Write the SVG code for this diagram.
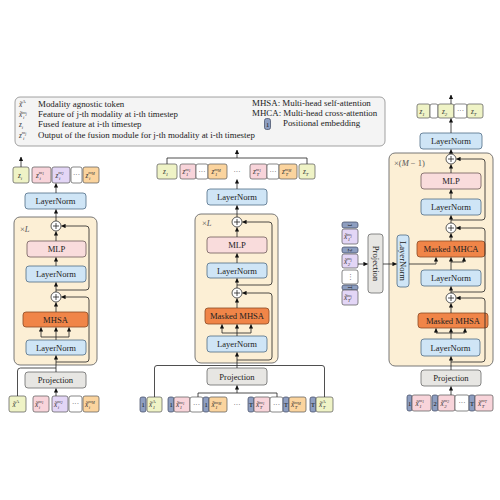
<svg xmlns="http://www.w3.org/2000/svg" width="500" height="500" viewBox="0 0 500 500">
  <defs>
    <marker id="ah" viewBox="0 0 6 6" refX="5.5" refY="3" markerWidth="4.4" markerHeight="4.4" markerUnits="userSpaceOnUse" orient="auto">
      <path d="M0,0 L6,3 L0,6 z" fill="#111"/>
    </marker>
    <style>
      .lbl{font-family:"Liberation Serif","Times New Roman",serif;font-size:8.6px;fill:#222;text-anchor:middle}
      .lg{font-family:"Liberation Serif","Times New Roman",serif;font-size:8.9px;fill:#222}
      .m{font-family:"Liberation Serif","Times New Roman",serif;font-size:7.2px;font-style:italic;fill:#333}
      .sp{font-size:4.8px}
      .ss{font-size:3.6px}
      .ln{fill:#cfe5f6;stroke:#4f6c86;stroke-width:0.8}
      .mlp{fill:#f9dcdc;stroke:#6e5a5a;stroke-width:0.8}
      .att{fill:#f08548;stroke:#8a4a24;stroke-width:0.8}
      .proj{fill:#e7e6e3;stroke:#6a6a6a;stroke-width:0.8}
      .box{fill:#fcefd5;stroke:#6a6a6a;stroke-width:0.9}
      .ty{fill:#eff3c6;stroke:#555;stroke-width:0.7}
      .tp{fill:#f8d4da;stroke:#555;stroke-width:0.7}
      .tv{fill:#e3d6f6;stroke:#555;stroke-width:0.7}
      .to{fill:#fbd49e;stroke:#555;stroke-width:0.7}
      .tw{fill:#ffffff;stroke:#555;stroke-width:0.7}
      .pe{fill:#8e9ec0;stroke:#3c4660;stroke-width:0.7}
      .pet{font-family:"Liberation Serif","Times New Roman",serif;font-size:6.5px;fill:#111;text-anchor:middle}
      .pl{fill:#fff;stroke:#333;stroke-width:0.8}
      .c{fill:none;stroke:#222;stroke-width:0.8}
      .a{fill:none;stroke:#222;stroke-width:0.8;marker-end:url(#ah)}
      .dots{font-family:"Liberation Serif","Times New Roman",serif;font-size:7px;fill:#333;text-anchor:middle}
      .rep{font-family:"Liberation Serif","Times New Roman",serif;font-size:8.5px;fill:#555}
    </style>
  </defs>

  <!-- legend -->
  <g id="legend">
    <rect x="15" y="97" width="370" height="49" rx="5" fill="#f4f4f4" stroke="#8a8a8a" stroke-width="0.8"/>
    <text class="m" x="19" y="106.5">x̃<tspan class="sp" y="102.5" font-style="normal">A</tspan></text>
    <text class="lg" x="38" y="106.5">Modality agnostic token</text>
    <text class="m" x="19" y="117">x̃<tspan class="sp" y="113.5">m</tspan><tspan class="ss" y="114.5">j</tspan><tspan class="sp" x="23" y="119">i</tspan></text>
    <text class="lg" x="38" y="117">Feature of j-th modality at i-th timestep</text>
    <text class="m" x="19" y="127">z<tspan class="sp" y="128.5">i</tspan></text>
    <text class="lg" x="38" y="127">Fused feature at i-th timestep</text>
    <text class="m" x="19" y="137.5">z<tspan class="sp" y="134">m</tspan><tspan class="ss" y="135">j</tspan><tspan class="sp" x="23" y="139.5">i</tspan></text>
    <text class="lg" x="38" y="137.5">Output of the fusion module for j-th modality at i-th timestep</text>
    <text class="lg" x="252" y="105.5">MHSA: Multi-head self-attention</text>
    <text class="lg" x="252" y="115.5">MHCA: Multi-head cross-attention</text>
    <rect class="pe" x="264.5" y="118.5" width="6" height="11" rx="2"/>
    <text class="pet" x="267.5" y="126.5">1</text>
    <text class="lg" x="283" y="125.8">Positional embedding</text>
  </g>

  <!-- ===== left block: single-timestep fusion ===== -->
  <g id="fusion-a">
    <rect class="box" x="14" y="217" width="83" height="148" rx="6"/>
    <text class="rep" x="20" y="232">×<tspan font-style="italic">L</tspan></text>
  </g>
  <g id="a-ln-out"><rect class="ln" x="25" y="193" width="61" height="16" rx="3"/><text class="lbl" x="55.5" y="204">LayerNorm</text></g>
  <g id="a-mlp"><rect class="mlp" x="27" y="241" width="59" height="16" rx="3"/><text class="lbl" x="56.5" y="252">MLP</text></g>
  <g id="a-ln2"><rect class="ln" x="26" y="266" width="60" height="16" rx="3"/><text class="lbl" x="56" y="277">LayerNorm</text></g>
  <g id="a-mhsa"><rect class="att" x="23" y="312" width="65" height="15" rx="3"/><text class="lbl" x="55.5" y="322.5">MHSA</text></g>
  <g id="a-ln1"><rect class="ln" x="26" y="340" width="60" height="15" rx="3"/><text class="lbl" x="56" y="350.5">LayerNorm</text></g>
  <g id="a-proj"><rect class="proj" x="25" y="372" width="61" height="16" rx="3"/><text class="lbl" x="55.5" y="383">Projection</text></g>
  <g id="a-add1"><circle class="pl" cx="56" cy="226" r="5"/><path class="c" d="M53,226 H59 M56,223 V229"/></g>
  <g id="a-add2"><circle class="pl" cx="56" cy="297" r="5"/><path class="c" d="M53,297 H59 M56,294 V300"/></g>
  <g id="a-out-tokens">
    <rect class="ty" x="13" y="167" width="16" height="16" rx="2"/>
    <text class="m" x="18" y="177.5">z<tspan class="sp" y="179.5">i</tspan></text>
    <rect class="tp" x="32" y="167" width="19" height="16" rx="2"/>
    <text class="m" x="36" y="177.5">z<tspan class="sp" y="174">m</tspan><tspan class="ss" y="175">1</tspan><tspan class="sp" x="39.6" y="179.5">i</tspan></text>
    <rect class="tv" x="52" y="167" width="18" height="16" rx="2"/>
    <text class="m" x="55.5" y="177.5">z<tspan class="sp" y="174">m</tspan><tspan class="ss" y="175">2</tspan><tspan class="sp" x="59.1" y="179.5">i</tspan></text>
    <rect class="tw" x="71" y="167" width="11" height="16" rx="2"/>
    <text class="dots" x="76.5" y="177">···</text>
    <rect class="to" x="83" y="167" width="16" height="16" rx="2"/>
    <text class="m" x="85.5" y="177.5">z<tspan class="sp" y="174">m</tspan><tspan class="ss" y="175">M</tspan><tspan class="sp" x="89.1" y="179.5">i</tspan></text>
  </g>
  <g id="a-in-tokens">
    <rect class="ty" x="9" y="396" width="17" height="16" rx="2"/>
    <text class="m" x="12.5" y="406.5">x̃<tspan class="sp" y="402.5" font-style="normal">A</tspan></text>
    <rect class="tp" x="33" y="396" width="16" height="16" rx="2"/>
    <text class="m" x="35" y="406.5">x̃<tspan class="sp" y="403">m</tspan><tspan class="ss" y="404">1</tspan><tspan class="sp" x="38.8" y="408.5">i</tspan></text>
    <rect class="tv" x="52" y="396" width="16" height="16" rx="2"/>
    <text class="m" x="54" y="406.5">x̃<tspan class="sp" y="403">m</tspan><tspan class="ss" y="404">2</tspan><tspan class="sp" x="57.8" y="408.5">i</tspan></text>
    <rect class="tw" x="69" y="396" width="13" height="16" rx="2"/>
    <text class="dots" x="75.5" y="406">···</text>
    <rect class="to" x="83" y="396" width="16" height="16" rx="2"/>
    <text class="m" x="85" y="406.5">x̃<tspan class="sp" y="403">m</tspan><tspan class="ss" y="404">M</tspan><tspan class="sp" x="88.8" y="408.5">i</tspan></text>
  </g>

  <!-- ===== middle block: multi-timestep fusion ===== -->
  <g id="fusion-b">
    <rect class="box" x="195" y="214" width="83" height="149" rx="6"/>
    <text class="rep" x="202" y="226">×<tspan font-style="italic">L</tspan></text>
  </g>
  <g id="b-ln-out"><rect class="ln" x="207" y="189" width="60" height="16" rx="3"/><text class="lbl" x="237" y="200">LayerNorm</text></g>
  <g id="b-mlp"><rect class="mlp" x="207" y="237" width="60" height="16" rx="3"/><text class="lbl" x="237" y="248">MLP</text></g>
  <g id="b-ln2"><rect class="ln" x="207" y="263" width="60" height="15" rx="3"/><text class="lbl" x="237" y="273.5">LayerNorm</text></g>
  <g id="b-mhsa"><rect class="att" x="205" y="308" width="64" height="16" rx="3"/><text class="lbl" x="237" y="319">Masked MHSA</text></g>
  <g id="b-ln1"><rect class="ln" x="207" y="336" width="60" height="16" rx="3"/><text class="lbl" x="237" y="347">LayerNorm</text></g>
  <g id="b-proj"><rect class="proj" x="207" y="368" width="60" height="17" rx="3"/><text class="lbl" x="237" y="379.5">Projection</text></g>
  <g id="b-add1"><circle class="pl" cx="237" cy="222" r="5"/><path class="c" d="M234,222 H240 M237,219 V225"/></g>
  <g id="b-add2"><circle class="pl" cx="237" cy="293" r="5"/><path class="c" d="M234,293 H240 M237,290 V296"/></g>
  <g id="b-out-tokens">
    <rect class="ty" x="157" y="164" width="20" height="15" rx="2"/>
    <text class="m" x="163" y="174">z<tspan class="sp" y="176">1</tspan></text>
    <rect class="tp" x="180" y="164" width="16" height="15" rx="2"/>
    <text class="m" x="182.5" y="174">z<tspan class="sp" y="170.5">m</tspan><tspan class="ss" y="171.5">1</tspan><tspan class="sp" x="186.1" y="176">1</tspan></text>
    <rect class="tw" x="196" y="164" width="12" height="15" rx="2"/>
    <text class="dots" x="202" y="174">···</text>
    <rect class="to" x="208" y="164" width="19" height="15" rx="2"/>
    <text class="m" x="211.5" y="174">z<tspan class="sp" y="170.5">m</tspan><tspan class="ss" y="171.5">M</tspan><tspan class="sp" x="215.1" y="176">1</tspan></text>
    <text class="dots" x="237" y="174">···</text>
    <rect class="tp" x="250" y="164" width="17" height="15" rx="2"/>
    <text class="m" x="253" y="174">z<tspan class="sp" y="170.5">m</tspan><tspan class="ss" y="171.5">1</tspan><tspan class="sp" x="256.6" y="176">T</tspan></text>
    <rect class="tw" x="267" y="164" width="12" height="15" rx="2"/>
    <text class="dots" x="273" y="174">···</text>
    <rect class="to" x="279" y="164" width="18" height="15" rx="2"/>
    <text class="m" x="282" y="174">z<tspan class="sp" y="170.5">m</tspan><tspan class="ss" y="171.5">M</tspan><tspan class="sp" x="285.6" y="176">T</tspan></text>
    <rect class="ty" x="299" y="164" width="16" height="15" rx="2"/>
    <text class="m" x="303" y="174">z<tspan class="sp" y="176">T</tspan></text>
  </g>
  <g id="b-in-tokens">
    <rect class="pe" x="140" y="397" width="6" height="15" rx="2"/><text class="pet" x="143" y="407">1</text>
    <rect class="ty" x="147" y="397" width="15" height="15" rx="2"/>
    <text class="m" x="149" y="407">x̃<tspan class="sp" y="403" font-style="normal">A</tspan><tspan class="sp" x="152.8" y="409">1</tspan></text>
    <rect class="pe" x="168" y="397" width="6" height="15" rx="2"/><text class="pet" x="171" y="407">1</text>
    <rect class="tp" x="174" y="397" width="16" height="15" rx="2"/>
    <text class="m" x="176" y="407">x̃<tspan class="sp" y="403.5">m</tspan><tspan class="ss" y="404.5">1</tspan><tspan class="sp" x="179.8" y="409">1</tspan></text>
    <rect class="tw" x="190" y="397" width="13" height="15" rx="2"/>
    <text class="dots" x="196.5" y="407">···</text>
    <rect class="pe" x="203" y="397" width="6" height="15" rx="2"/><text class="pet" x="206" y="407">1</text>
    <rect class="to" x="209" y="397" width="18" height="15" rx="2"/>
    <text class="m" x="211.5" y="407">x̃<tspan class="sp" y="403.5">m</tspan><tspan class="ss" y="404.5">M</tspan><tspan class="sp" x="215.3" y="409">1</tspan></text>
    <text class="dots" x="237" y="407">···</text>
    <rect class="pe" x="248" y="397" width="6" height="15" rx="2"/><text class="pet" x="251" y="407">T</text>
    <rect class="tp" x="254" y="397" width="16" height="15" rx="2"/>
    <text class="m" x="256" y="407">x̃<tspan class="sp" y="403.5">m</tspan><tspan class="ss" y="404.5">1</tspan><tspan class="sp" x="259.8" y="409">T</tspan></text>
    <rect class="tw" x="270" y="397" width="13" height="15" rx="2"/>
    <text class="dots" x="276.5" y="407">···</text>
    <rect class="pe" x="283" y="397" width="6" height="15" rx="2"/><text class="pet" x="286" y="407">T</text>
    <rect class="to" x="289" y="397" width="17" height="15" rx="2"/>
    <text class="m" x="291" y="407">x̃<tspan class="sp" y="403.5">m</tspan><tspan class="ss" y="404.5">M</tspan><tspan class="sp" x="294.8" y="409">T</tspan></text>
    <rect class="pe" x="310" y="397" width="6" height="15" rx="2"/><text class="pet" x="313" y="407">T</text>
    <rect class="ty" x="316" y="397" width="17" height="15" rx="2"/>
    <text class="m" x="319" y="407">x̃<tspan class="sp" y="403" font-style="normal">A</tspan><tspan class="sp" x="322.8" y="409">T</tspan></text>
  </g>

  <!-- ===== right block: decoder with cross-attention ===== -->
  <g id="fusion-c">
    <rect class="box" x="389" y="153" width="104" height="213" rx="6"/>
    <text class="rep" x="394" y="166">×(<tspan font-style="italic">M</tspan> − 1)</text>
  </g>
  <g id="c-ln-out"><rect class="ln" x="420" y="133" width="62" height="16" rx="3"/><text class="lbl" x="451" y="144">LayerNorm</text></g>
  <g id="c-mlp"><rect class="mlp" x="421" y="173" width="60" height="16" rx="3"/><text class="lbl" x="451" y="184">MLP</text></g>
  <g id="c-ln3"><rect class="ln" x="421" y="199" width="60" height="16" rx="3"/><text class="lbl" x="451" y="210">LayerNorm</text></g>
  <g id="c-mhca"><rect class="att" x="417" y="241" width="68" height="16" rx="3"/><text class="lbl" x="451" y="252">Masked MHCA</text></g>
  <g id="c-ln2"><rect class="ln" x="421" y="270" width="60" height="16" rx="3"/><text class="lbl" x="451" y="281">LayerNorm</text></g>
  <g id="c-mhsa"><rect class="att" x="418" y="313" width="70" height="15" rx="3"/><text class="lbl" x="453" y="323.5">Masked MHSA</text></g>
  <g id="c-ln1"><rect class="ln" x="421" y="339" width="59" height="17" rx="3"/><text class="lbl" x="450.5" y="350.5">LayerNorm</text></g>
  <g id="c-proj"><rect class="proj" x="421" y="370" width="60" height="16" rx="3"/><text class="lbl" x="451" y="381">Projection</text></g>
  <g id="c-add1"><circle class="pl" cx="451" cy="159" r="5"/><path class="c" d="M448,159 H454 M451,156 V162"/></g>
  <g id="c-add2"><circle class="pl" cx="451" cy="228" r="5"/><path class="c" d="M448,228 H454 M451,225 V231"/></g>
  <g id="c-add3"><circle class="pl" cx="451" cy="298" r="5"/><path class="c" d="M448,298 H454 M451,295 V301"/></g>
  <g id="c-mem-ln"><rect class="ln" x="397" y="235" width="12" height="52" rx="3"/><text class="lbl" transform="translate(403,261) rotate(90)" y="3">LayerNorm</text></g>
  <g id="c-mem-proj"><rect class="proj" x="368" y="234" width="15" height="59" rx="3"/><text class="lbl" transform="translate(375.5,263.5) rotate(90)" y="3">Projection</text></g>
  <g id="c-mem-tokens">
    <rect class="pe" x="342" y="222" width="16" height="6" rx="2"/><text class="pet" transform="translate(350,225) rotate(90)" y="2.3">1</text>
    <rect class="tv" x="342" y="229" width="16" height="15" rx="2"/>
    <text class="m" x="344" y="239">x̃<tspan class="sp" y="235.5">m</tspan><tspan class="ss" y="236.5">j</tspan><tspan class="sp" x="347.8" y="241">1</tspan></text>
    <rect class="pe" x="342" y="247" width="16" height="6" rx="2"/><text class="pet" transform="translate(350,250) rotate(90)" y="2.3">2</text>
    <rect class="tv" x="342" y="254" width="16" height="14" rx="2"/>
    <text class="m" x="344" y="263.5">x̃<tspan class="sp" y="260">m</tspan><tspan class="ss" y="261">j</tspan><tspan class="sp" x="347.8" y="265.5">2</tspan></text>
    <rect class="tw" x="342" y="270" width="16" height="14" rx="2"/>
    <text class="dots" transform="translate(350,277) rotate(90)" y="2">···</text>
    <rect class="pe" x="342" y="285" width="16" height="5" rx="2"/><text class="pet" transform="translate(350,287.5) rotate(90)" y="2.3">T</text>
    <rect class="tv" x="342" y="290" width="16" height="15" rx="2"/>
    <text class="m" x="344" y="300">x̃<tspan class="sp" y="296.5">m</tspan><tspan class="ss" y="297.5">j</tspan><tspan class="sp" x="347.8" y="302">T</tspan></text>
  </g>
  <g id="c-out-tokens">
    <rect class="ty" x="417" y="104" width="13" height="14" rx="2"/>
    <text class="m" x="419.5" y="113.5">z<tspan class="sp" y="115.5">1</tspan></text>
    <rect class="tw" x="430" y="104" width="8" height="14" rx="2"/>
    <rect class="ty" x="438" y="104" width="16" height="14" rx="2"/>
    <text class="m" x="442" y="113.5">z<tspan class="sp" y="115.5">2</tspan></text>
    <rect class="tw" x="454" y="104" width="13" height="14" rx="2"/>
    <text class="dots" x="460.5" y="113">···</text>
    <rect class="ty" x="467" y="104" width="16" height="14" rx="2"/>
    <text class="m" x="471" y="113.5">z<tspan class="sp" y="115.5">T</tspan></text>
  </g>
  <g id="c-in-tokens">
    <rect class="pe" x="407" y="395" width="5" height="16" rx="2"/><text class="pet" x="409.5" y="405.5">1</text>
    <rect class="tp" x="412" y="395" width="19" height="16" rx="2"/>
    <text class="m" x="415.5" y="405.5">x̃<tspan class="sp" y="402">m</tspan><tspan class="ss" y="403">1</tspan><tspan class="sp" x="419.3" y="407.5">1</tspan></text>
    <rect class="pe" x="432" y="395" width="6" height="16" rx="2"/><text class="pet" x="435" y="405.5">2</text>
    <rect class="tp" x="438" y="395" width="17" height="16" rx="2"/>
    <text class="m" x="440.5" y="405.5">x̃<tspan class="sp" y="402">m</tspan><tspan class="ss" y="403">2</tspan><tspan class="sp" x="444.3" y="407.5">2</tspan></text>
    <rect class="tw" x="455" y="395" width="14" height="16" rx="2"/>
    <text class="dots" x="462" y="405">···</text>
    <rect class="pe" x="469" y="395" width="6" height="16" rx="2"/><text class="pet" x="472" y="405.5">T</text>
    <rect class="tp" x="475" y="395" width="18" height="16" rx="2"/>
    <text class="m" x="478" y="405.5">x̃<tspan class="sp" y="402">m</tspan><tspan class="ss" y="403">T</tspan><tspan class="sp" x="481.8" y="407.5">T</tspan></text>
  </g>

  <!-- connectors -->
  <g id="connectors">
    <!-- left block -->
    <path class="a" d="M21,167 V157"/>
    <path class="a" d="M56,193 V183.5"/>
    <path class="a" d="M56,221 V209.5"/>
    <path class="a" d="M56,241 V231.5"/>
    <path class="a" d="M56,266 V257.5"/>
    <path class="a" d="M56,292 V282.5"/>
    <path class="a" d="M56,312 V302.5"/>
    <path class="c" d="M56,340 V337 M41,337 H69"/>
    <path class="a" d="M41,337 V327.5"/>
    <path class="a" d="M56,337 V327.5"/>
    <path class="a" d="M69,337 V327.5"/>
    <path class="a" d="M56,372 V355.5"/>
    <path class="a" d="M56,396 V388.5"/>
    <path class="c" d="M17.5,396 V371 Q17.5,368 20.5,368 H56"/>
    <path class="a" d="M56,290 H86 Q89,290 89,287 V229 Q89,226 86,226 H61.5"/>
    <path class="a" d="M56,362 H86 Q89,362 89,359 V300 Q89,297 86,297 H61.5"/>
    <!-- middle block -->
    <path class="a" d="M237,158 V150"/>
    <path class="c" d="M167,164 V158 H307 V164"/>
    <path class="a" d="M237,189 V179.5"/>
    <path class="a" d="M237,217 V205.5"/>
    <path class="a" d="M237,237 V227.5"/>
    <path class="a" d="M237,263 V253.5"/>
    <path class="a" d="M237,288 V278.5"/>
    <path class="a" d="M237,308 V298.5"/>
    <path class="c" d="M237,336 V333 M222,333 H251"/>
    <path class="a" d="M222,333 V324.5"/>
    <path class="a" d="M237,333 V324.5"/>
    <path class="a" d="M251,333 V324.5"/>
    <path class="a" d="M237,368 V352.5"/>
    <path class="c" d="M154.5,397 V368 Q154.5,365.5 157,365.5 H322 Q324.5,365.5 324.5,368 V397"/>
    <path class="c" d="M198,397 V393 H277 V397"/>
    <path class="a" d="M237,393 V385.5"/>
    <path class="a" d="M237,285 H269 Q272,285 272,282 V225 Q272,222 269,222 H242.5"/>
    <path class="a" d="M237,360 H269 Q272,360 272,357 V296 Q272,293 269,293 H242.5"/>
    <!-- right block -->
    <path class="a" d="M451,104 V95"/>
    <path class="a" d="M451,133 V118.5"/>
    <path class="a" d="M451,154 V149.5"/>
    <path class="a" d="M451,173 V164.5"/>
    <path class="a" d="M451,199 V189.5"/>
    <path class="a" d="M451,223 V215.5"/>
    <path class="a" d="M451,241 V233.5"/>
    <path class="c" d="M451,270 V262 H464"/>
    <path class="a" d="M451,262 V257.5"/>
    <path class="a" d="M464,262 V257.5"/>
    <path class="c" d="M409,264 H436"/>
    <path class="a" d="M436,264 V257.5"/>
    <path class="a" d="M451,293 V286.5"/>
    <path class="a" d="M451,313 V303.5"/>
    <path class="c" d="M451,339 V333 M436,333 H465"/>
    <path class="a" d="M436,333 V328.5"/>
    <path class="a" d="M451,333 V328.5"/>
    <path class="a" d="M465,333 V328.5"/>
    <path class="a" d="M451,370 V356.5"/>
    <path class="a" d="M451,395 V386.5"/>
    <path class="a" d="M358,264 H367.5"/>
    <path class="a" d="M383,264 H396.5"/>
    <path class="a" d="M451,220 H482 Q485,220 485,217 V162 Q485,159 482,159 H456.5"/>
    <path class="a" d="M451,292 H482 Q485,292 485,289 V231 Q485,228 482,228 H456.5"/>
    <path class="a" d="M451,362 H482 Q485,362 485,359 V301 Q485,298 482,298 H456.5"/>
  </g>
</svg>
